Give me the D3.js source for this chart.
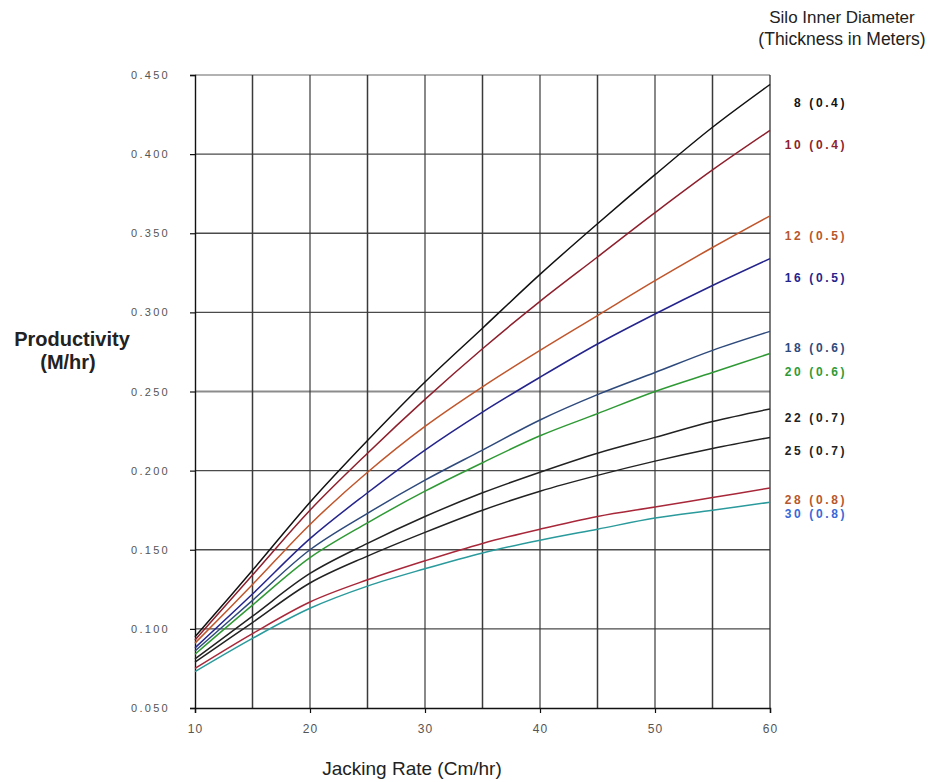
<!DOCTYPE html>
<html>
<head>
<meta charset="utf-8">
<script src="https://cdn.jsdelivr.net/npm/d3@7"></script>
<style>
  html, body { margin: 0; padding: 0; background: #fff; }
  svg { display: block; }
</style>
</head>
<body>
<svg id="chart" width="930" height="782"></svg>
<script>
// ---- data ----
const jackingRates = [10, 15, 20, 25, 30, 35, 40, 45, 50, 55, 60];
const seriesNames = ["8 (0.4)", "10 (0.4)", "12 (0.5)", "16 (0.5)", "18 (0.6)", "20 (0.6)", "22 (0.7)", "25 (0.7)", "28 (0.8)", "30 (0.8)"];
const s8  = [0.095, 0.137, 0.180, 0.219, 0.256, 0.290, 0.324, 0.356, 0.387, 0.417, 0.444];
const s10 = [0.093, 0.134, 0.175, 0.211, 0.245, 0.277, 0.307, 0.335, 0.363, 0.390, 0.415];
const s12 = [0.091, 0.128, 0.166, 0.199, 0.228, 0.253, 0.276, 0.298, 0.320, 0.341, 0.361];
const s16 = [0.088, 0.122, 0.157, 0.186, 0.213, 0.237, 0.259, 0.280, 0.299, 0.317, 0.334];
const s18 = [0.086, 0.118, 0.150, 0.173, 0.194, 0.213, 0.232, 0.248, 0.262, 0.276, 0.288];
const s20 = [0.084, 0.115, 0.145, 0.167, 0.187, 0.205, 0.222, 0.236, 0.250, 0.262, 0.274];
const s22 = [0.081, 0.108, 0.135, 0.154, 0.171, 0.186, 0.199, 0.211, 0.221, 0.231, 0.239];
const s25 = [0.079, 0.104, 0.129, 0.146, 0.161, 0.175, 0.187, 0.197, 0.206, 0.214, 0.221];
const s28 = [0.075, 0.097, 0.117, 0.131, 0.143, 0.154, 0.163, 0.171, 0.177, 0.183, 0.189];
const s30 = [0.073, 0.094, 0.113, 0.127, 0.138, 0.148, 0.156, 0.163, 0.170, 0.175, 0.180];
const seriesValues = [s8, s10, s12, s16, s18, s20, s22, s25, s28, s30];
const lineColors  = ["#111111", "#8e1f2c", "#c0562c", "#24248c", "#2e4a7c", "#2f9a35", "#222222", "#222222", "#a8283a", "#2a9a9c"];
const labelColors = ["#111111", "#8e1f2c", "#b8572c", "#24248c", "#2e4a7c", "#2f9a35", "#222222", "#222222", "#b8572c", "#3868d8"];
// label anchor positions, in data units of the y axis
const labelLevels = [0.432, 0.405, 0.348, 0.321, 0.277, 0.262, 0.233, 0.212, 0.181, 0.172];
const yTicks = [0.05, 0.10, 0.15, 0.20, 0.25, 0.30, 0.35, 0.40, 0.45];
const xTicks = [10, 20, 30, 40, 50, 60];
const xGrid = [15, 20, 25, 30, 35, 40, 45, 50, 55];

// ---- scales ----
const svg = d3.select("#chart");
const x = d3.scaleLinear().domain([10, 60]).range([195, 770]);
const y = d3.scaleLinear().domain([0.05, 0.45]).range([708, 75]);

const font = "'Liberation Sans', Arial, sans-serif";

// gridlines
svg.append("g").selectAll("line").data(yTicks.slice(1)).join("line")
  .attr("x1", x(10)).attr("x2", x(60))
  .attr("y1", d => y(d)).attr("y2", d => y(d))
  .attr("stroke", d => d === 0.45 ? "#999" : (d === 0.25 ? "#8c8c8c" : "#4a4a4a"))
  .attr("stroke-width", d => d === 0.25 ? 2 : 1.3);
svg.append("g").selectAll("line").data(xGrid).join("line")
  .attr("x1", d => x(d)).attr("x2", d => x(d))
  .attr("y1", y(0.45)).attr("y2", y(0.05))
  .attr("stroke", "#3a3a3a")
  .attr("stroke-width", d => d % 10 === 5 ? 1.5 : 1.2);
// right border
svg.append("line")
  .attr("x1", x(60)).attr("x2", x(60)).attr("y1", y(0.45)).attr("y2", y(0.05))
  .attr("stroke", "#333").attr("stroke-width", 1.3);

// axes
const yAxis = d3.axisLeft(y).tickValues(yTicks).tickFormat(d3.format(".3f")).tickSize(5).tickPadding(20);
const gy = svg.append("g").attr("transform", `translate(${x(10)},0)`).call(yAxis);
gy.select(".domain").attr("stroke", "#111").attr("stroke-width", 1.4);
gy.selectAll(".tick line").attr("stroke", "#111").attr("stroke-width", 1.2);
gy.selectAll(".tick text").attr("fill", "#555").style("font-family", font)
  .style("font-size", "11px").style("letter-spacing", "2.3px");

const xAxis = d3.axisBottom(x).tickValues(xTicks).tickFormat(d3.format("d")).tickSize(5).tickPadding(11);
const gx = svg.append("g").attr("transform", `translate(0,${y(0.05)})`).call(xAxis);
gx.select(".domain").attr("stroke", "#111").attr("stroke-width", 1.4);
gx.selectAll(".tick line").attr("stroke", "#111").attr("stroke-width", 1.2);
gx.selectAll(".tick text").attr("fill", "#555").style("font-family", font)
  .style("font-size", "12px").style("letter-spacing", "1px");

// series lines
const line = d3.line()
  .x((d, i) => x(jackingRates[i]))
  .y(d => y(d))
  .curve(d3.curveCatmullRom.alpha(0.5));
svg.append("g").selectAll("path").data(seriesValues).join("path")
  .attr("d", d => line(d))
  .attr("fill", "none")
  .attr("stroke", (d, i) => lineColors[i])
  .attr("stroke-width", 1.5);

// series labels
svg.append("g").selectAll("text").data(seriesNames).join("text")
  .attr("x", 847)
  .attr("y", (d, i) => y(labelLevels[i]))
  .attr("text-anchor", "end")
  .attr("dominant-baseline", "middle")
  .attr("fill", (d, i) => labelColors[i])
  .style("font-family", font).style("font-size", "12px").style("font-weight", "bold")
  .style("letter-spacing", "2.6px")
  .text(d => d);

// legend title
svg.append("text").attr("x", 842).attr("y", 23).attr("text-anchor", "middle")
  .style("font-family", font).style("font-size", "17px").attr("fill", "#222")
  .text("Silo Inner Diameter");
svg.append("text").attr("x", 842).attr("y", 45).attr("text-anchor", "middle")
  .style("font-family", font).style("font-size", "17.5px").attr("fill", "#222")
  .text("(Thickness in Meters)");

// y title
svg.append("text").attr("x", 72).attr("y", 346).attr("text-anchor", "middle")
  .style("font-family", font).style("font-size", "20px").style("font-weight", "bold").attr("fill", "#222")
  .text("Productivity");
svg.append("text").attr("x", 68).attr("y", 369).attr("text-anchor", "middle")
  .style("font-family", font).style("font-size", "20px").style("font-weight", "bold").attr("fill", "#222")
  .text("(M/hr)");

// x title
svg.append("text").attr("x", 412).attr("y", 775).attr("text-anchor", "middle")
  .style("font-family", font).style("font-size", "19px").attr("fill", "#222")
  .text("Jacking Rate (Cm/hr)");
</script>
</body>
</html>
